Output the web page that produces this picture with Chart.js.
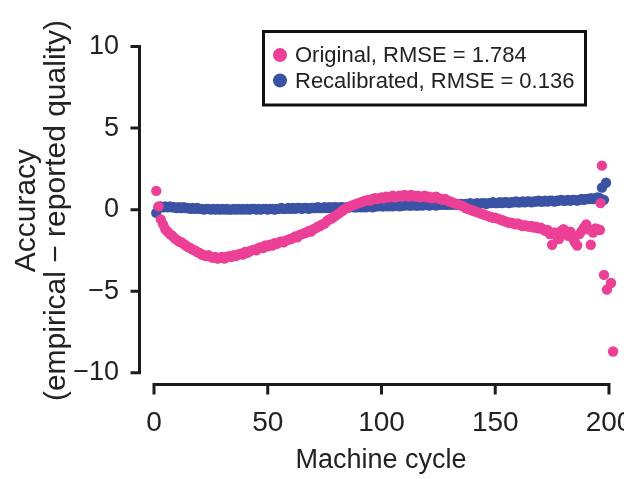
<!DOCTYPE html>
<html><head><meta charset="utf-8">
<script src="https://cdn.jsdelivr.net/npm/chart.js@4/dist/chart.umd.min.js"></script>
<style>html,body{margin:0;padding:0;overflow:hidden;background:#fff;width:624px;height:479px}canvas{display:block}</style>
</head><body>
<canvas id="c" width="660" height="479"></canvas>
<script>
const seriesNames = ['Original, RMSE = 1.784', 'Recalibrated, RMSE = 0.136'];
const seriesColors = ['#EC4097', '#3A53A4'];
const xTicks = [0, 50, 100, 150, 200];
const yTicks = [-10, -5, 0, 5, 10];
const xTitle = 'Machine cycle';
const yTitle = ['Accuracy', '(empirical \u2212 reported quality)'];

// values for machine cycles 1..196
const originalMain = [
  1.15, 0.2, -0.6, -0.9, -1.2, -1.35, -1.5, -1.6, -1.75, -1.85,
  -1.95, -2.0, -2.1, -2.2, -2.3, -2.35, -2.45, -2.5, -2.6, -2.65,
  -2.75, -2.8, -2.85, -2.8, -2.9, -2.95, -2.9, -3.0, -2.95, -2.9,
  -3.0, -2.9, -2.85, -2.9, -2.8, -2.85, -2.75, -2.7, -2.75, -2.6,
  -2.65, -2.55, -2.5, -2.45, -2.5, -2.35, -2.3, -2.35, -2.2, -2.25,
  -2.15, -2.2, -2.05, -2.1, -2.0, -1.95, -2.0, -1.9, -1.85, -1.8,
  -1.75, -1.65, -1.7, -1.55, -1.5, -1.45, -1.4, -1.3, -1.35, -1.2,
  -1.15, -1.05, -1.0, -0.9, -0.85, -0.7, -0.6, -0.55, -0.45, -0.35,
  -0.25, -0.15, -0.05, 0.05, 0.1, 0.2, 0.25, 0.3, 0.35, 0.4,
  0.45, 0.5, 0.55, 0.6, 0.55, 0.65, 0.7, 0.65, 0.7, 0.75,
  0.7, 0.8, 0.75, 0.8, 0.85, 0.75, 0.8, 0.85, 0.8, 0.9,
  0.85, 0.8, 0.9, 0.85, 0.8, 0.85, 0.75, 0.8, 0.85, 0.75,
  0.8, 0.7, 0.75, 0.8, 0.7, 0.65, 0.6, 0.65, 0.55, 0.5,
  0.45, 0.4, 0.35, 0.3, 0.25, 0.2, 0.1, 0.05, 0.0, -0.05,
  -0.1, -0.15, -0.2, -0.25, -0.3, -0.35, -0.4, -0.45, -0.5, -0.5,
  -0.55, -0.6, -0.65, -0.7, -0.75, -0.8, -0.8, -0.85, -0.9, -0.85,
  -0.95, -1.0, -0.95, -1.0, -1.05, -1.0, -1.1, -1.05, -1.15, -1.1,
  -1.2, -1.3, -1.25, -1.5, -2.15, -1.4, -1.6, -1.8, -1.3, -1.2,
  -1.45, -1.6, -1.35, -1.75, -2.0, -2.2, -1.5, -1.3, -1.1, -0.9,
  -1.2, -2.15, -1.4, -1.15, -1.2, -1.25
];
const recalibratedMain = [
  -0.2, 0.15, 0.2, 0.15, 0.2, 0.15, 0.2, 0.15, 0.15, 0.1,
  0.15, 0.1, 0.15, 0.1, 0.1, 0.05, 0.1, 0.05, 0.1, 0.05,
  0.05, 0.0, 0.05, 0.05, 0.0, 0.05, 0.0, 0.05, 0.0, 0.05,
  0.0, 0.05, 0.0, 0.0, 0.05, 0.0, 0.05, 0.0, 0.05, 0.0,
  0.05, 0.0, 0.05, 0.05, 0.0, 0.05, 0.0, 0.05, 0.05, 0.0,
  0.05, 0.05, 0.0, 0.05, 0.05, 0.1, 0.05, 0.05, 0.1, 0.05,
  0.1, 0.05, 0.1, 0.1, 0.05, 0.1, 0.1, 0.05, 0.1, 0.1,
  0.1, 0.15, 0.1, 0.1, 0.15, 0.1, 0.15, 0.1, 0.15, 0.15,
  0.1, 0.15, 0.15, 0.1, 0.15, 0.15, 0.2, 0.15, 0.15, 0.2,
  0.15, 0.2, 0.15, 0.2, 0.2, 0.15, 0.2, 0.2, 0.25, 0.2,
  0.2, 0.25, 0.2, 0.25, 0.2, 0.25, 0.25, 0.2, 0.25, 0.25,
  0.3, 0.25, 0.25, 0.3, 0.25, 0.25, 0.3, 0.25, 0.3, 0.3,
  0.25, 0.3, 0.3, 0.25, 0.3, 0.3, 0.35, 0.3, 0.3, 0.35,
  0.3, 0.35, 0.3, 0.35, 0.35, 0.3, 0.35, 0.35, 0.4, 0.35,
  0.35, 0.4, 0.35, 0.4, 0.4, 0.35, 0.4, 0.4, 0.45, 0.4,
  0.4, 0.45, 0.4, 0.45, 0.45, 0.4, 0.45, 0.45, 0.5, 0.45,
  0.45, 0.5, 0.45, 0.5, 0.5, 0.45, 0.5, 0.5, 0.55, 0.5,
  0.5, 0.55, 0.5, 0.55, 0.55, 0.5, 0.55, 0.55, 0.6, 0.55,
  0.55, 0.6, 0.55, 0.6, 0.6, 0.55, 0.6, 0.65, 0.6, 0.65,
  0.65, 0.7, 0.65, 0.7, 0.75, 0.7
];
// last few cycles (read individually)
const originalTailCycles = [196.3, 196.9, 197.8, 199.1, 200.9, 201.8];
const originalTailValues = [0.4, 2.7, -4.0, -4.9, -4.5, -8.7];
const recalibratedTailCycles = [196.9, 197.8, 198.7];
const recalibratedTailValues = [1.35, 0.6, 1.65];

function toPoints(vals, tailX, tailY) {
  const pts = vals.map((v, i) => ({ x: i + 1, y: v }));
  tailX.forEach((c, i) => pts.push({ x: c, y: tailY[i] }));
  return pts;
}

const FONT = '"Liberation Sans", Arial, Helvetica, sans-serif';
const TEXT = '#222222';
const AXIS = '#1c1c1c';

const axesPlugin = {
  id: 'baseAxes',
  beforeDatasetsDraw(chart) {
    const { ctx, chartArea, scales: { x, y } } = chart;
    ctx.save();
    ctx.strokeStyle = AXIS;
    ctx.lineWidth = 3;
    ctx.lineCap = 'butt';
    const ax = chartArea.left + 1.5;
    const yA = y.getPixelForValue(yTicks[0]);
    const yB = y.getPixelForValue(yTicks[yTicks.length - 1]);
    ctx.beginPath();
    ctx.moveTo(ax, yA + 1.5); ctx.lineTo(ax, yB - 1.5);
    yTicks.forEach(v => { const p = y.getPixelForValue(v); ctx.moveTo(ax - 9, p); ctx.lineTo(ax, p); });
    ctx.stroke();
    const ay = chartArea.bottom - 1.5;
    const xA = x.getPixelForValue(xTicks[0]);
    const xB = x.getPixelForValue(xTicks[xTicks.length - 1]);
    ctx.beginPath();
    ctx.moveTo(xA - 1.5, ay); ctx.lineTo(xB + 1.5, ay);
    xTicks.forEach(v => { const p = x.getPixelForValue(v); ctx.moveTo(p, ay); ctx.lineTo(p, ay + 10); });
    ctx.stroke();
    ctx.restore();
  }
};

const legendPlugin = {
  id: 'boxLegend',
  afterDraw(chart) {
    const ctx = chart.ctx;
    ctx.save();
    ctx.lineWidth = 3;
    ctx.strokeStyle = '#111';
    ctx.strokeRect(263.5, 31.5, 322, 73.5);
    ctx.font = '22px ' + FONT;
    ctx.textBaseline = 'middle';
    ctx.textAlign = 'left';
    chart.data.datasets.forEach((ds, i) => {
      const cy = 55 + i * 25.5;
      ctx.fillStyle = ds.backgroundColor;
      ctx.beginPath(); ctx.arc(280, cy, 7, 0, Math.PI * 2); ctx.fill();
      ctx.fillStyle = TEXT;
      ctx.fillText(ds.label, 295, cy + 1);
    });
    ctx.restore();
  }
};

new Chart(document.getElementById('c'), {
  type: 'scatter',
  data: {
    datasets: [
      { label: seriesNames[0], data: toPoints(originalMain, originalTailCycles, originalTailValues),
        backgroundColor: seriesColors[0], borderWidth: 0, pointRadius: 5.2, clip: false },
      { label: seriesNames[1], data: toPoints(recalibratedMain, recalibratedTailCycles, recalibratedTailValues),
        backgroundColor: seriesColors[1], borderWidth: 0, pointRadius: 5.2, clip: false }
    ]
  },
  options: {
    responsive: false,
    animation: false,
    devicePixelRatio: 1,
    layout: { padding: { left: 0, top: 16, right: 36, bottom: 0 } },
    plugins: { legend: { display: false }, tooltip: { enabled: false } },
    scales: {
      x: {
        type: 'linear', min: -7.03, max: 206.6,
        grid: { display: false, drawTicks: false }, border: { display: false },
        afterBuildTicks: s => { s.ticks = xTicks.map(v => ({ value: v })); },
        afterFit: s => { s.height = 93; },
        ticks: { color: TEXT, font: { family: FONT, size: 28 }, padding: 20, maxRotation: 0, autoSkip: false },
        title: { display: true, text: xTitle, color: TEXT, font: { family: FONT, size: 27 }, padding: { top: 0, bottom: 2 } }
      },
      y: {
        type: 'linear', min: -10.814, max: 10.698,
        grid: { display: false, drawTicks: false }, border: { display: false },
        afterBuildTicks: s => { s.ticks = yTicks.map(v => ({ value: v })); },
        afterFit: s => { s.width = 138; },
        ticks: { color: TEXT, font: { family: FONT, size: 27 }, padding: 19,
          callback: v => String(v).replace('-', '\u2212') },
        title: { display: true, text: yTitle, color: TEXT, font: { family: FONT, size: 30, lineHeight: 1.0 }, padding: { top: 12, bottom: 0 } }
      }
    }
  },
  plugins: [axesPlugin, legendPlugin]
});
</script>
</body></html>
